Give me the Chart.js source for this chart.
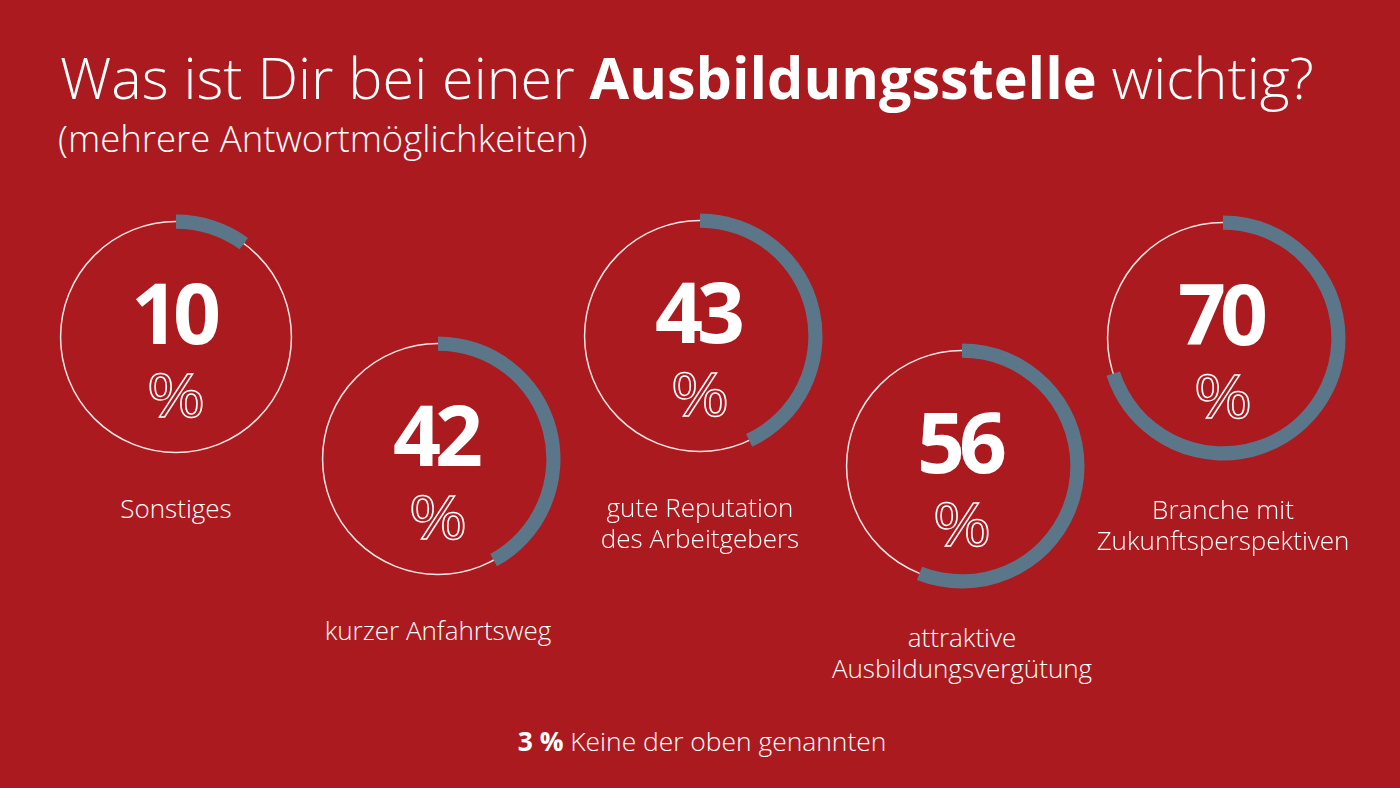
<!DOCTYPE html>
<html><head><meta charset="utf-8">
<script src="https://cdn.jsdelivr.net/npm/chart.js@4.4.1/dist/chart.umd.min.js"></script>
<style>
html,body{margin:0;padding:0;width:1400px;height:788px;overflow:hidden;background:#ab1a1f;font-family:"Open Sans",sans-serif;color:#fff;}
.abs{position:absolute;white-space:nowrap;}
#title{left:60px;top:49px;font-size:57.5px;font-weight:300;line-height:1;}
#title b{font-weight:700;}
#subtitle{left:58px;top:120px;font-size:36.5px;font-weight:300;line-height:1;}
.num{width:260px;text-align:center;font-size:84px;font-weight:700;line-height:1;letter-spacing:-6px;text-indent:-6px;}
.pct{width:260px;text-align:center;font-size:60px;font-weight:400;line-height:1;color:transparent;-webkit-text-stroke:1.4px #fff;transform:scaleX(1.18);}
.lbl{width:340px;text-align:center;font-size:26px;font-weight:300;line-height:31px;}
#foot{left:0;width:1404px;text-align:center;top:728px;font-size:26.4px;font-weight:300;line-height:1;}
#foot b{font-weight:700;}
canvas{position:absolute;}
</style></head><body>
<div id="title" class="abs">Was ist Dir bei einer <b>Ausbildungsstelle</b> wichtig?</div>
<div id="subtitle" class="abs">(mehrere Antwortmöglichkeiten)</div>
<div id="foot" class="abs"></div>
<script>
// Data
const categories = ["Sonstiges", "kurzer Anfahrtsweg", "gute Reputation\ndes Arbeitgebers", "attraktive\nAusbildungsvergütung", "Branche mit\nZukunftsperspektiven"];
const values = [10, 42, 43, 56, 70];
const noneLabel = "Keine der oben genannten";
const noneValue = 3;

// Layout (circle centres)
const centers = [[176,337],[438,459],[700,336],[962,466],[1223,338]];
const arcColor = "#5b7689";

const ringPlugin = {
  id: 'ring',
  beforeDatasetsDraw(chart) {
    const arc = chart.getDatasetMeta(0).data[0];
    if (!arc) return;
    const ctx = chart.ctx;
    ctx.save();
    ctx.beginPath();
    ctx.arc(arc.x, arc.y, (arc.innerRadius + arc.outerRadius) / 2, 0, Math.PI * 2);
    ctx.lineWidth = 1.5;
    ctx.strokeStyle = "#f7e6e6";
    ctx.stroke();
    ctx.restore();
  }
};

values.forEach((v, i) => {
  const [cx, cy] = centers[i];
  const cv = document.createElement('canvas');
  cv.width = 260; cv.height = 260;
  cv.style.left = (cx - 130) + 'px';
  cv.style.top = (cy - 130) + 'px';
  cv.style.width = '260px'; cv.style.height = '260px';
  document.body.appendChild(cv);
  new Chart(cv, {
    type: 'doughnut',
    data: { labels: [categories[i], ''], datasets: [{ data: [v, 100 - v], backgroundColor: [arcColor, 'rgba(0,0,0,0)'], borderWidth: 0 }] },
    options: {
      responsive: false, animation: false, devicePixelRatio: 1,
      radius: 122.5, cutout: 115, rotation: 0, circumference: 360,
      layout: { padding: 0 },
      plugins: { legend: { display: false }, tooltip: { enabled: false } },
      events: []
    },
    plugins: [ringPlugin]
  });
  const n = document.createElement('div');
  n.className = 'abs num'; n.textContent = v;
  n.style.left = (cx - 130) + 'px'; n.style.top = (cy - 67) + 'px';
  document.body.appendChild(n);
  const p = document.createElement('div');
  p.className = 'abs pct'; p.textContent = '%';
  p.style.left = (cx - 130) + 'px'; p.style.top = (cy + 27) + 'px';
  document.body.appendChild(p);
  const l = document.createElement('div');
  l.className = 'abs lbl';
  categories[i].split('\n').forEach(t => { const d = document.createElement('div'); d.textContent = t; l.appendChild(d); });
  l.style.left = (cx - 170) + 'px'; l.style.top = (cy + 156) + 'px';
  document.body.appendChild(l);
});
const foot = document.getElementById('foot');
const fb = document.createElement('b'); fb.textContent = noneValue + ' %';
foot.appendChild(fb); foot.appendChild(document.createTextNode(' ' + noneLabel));
</script>
</body></html>
